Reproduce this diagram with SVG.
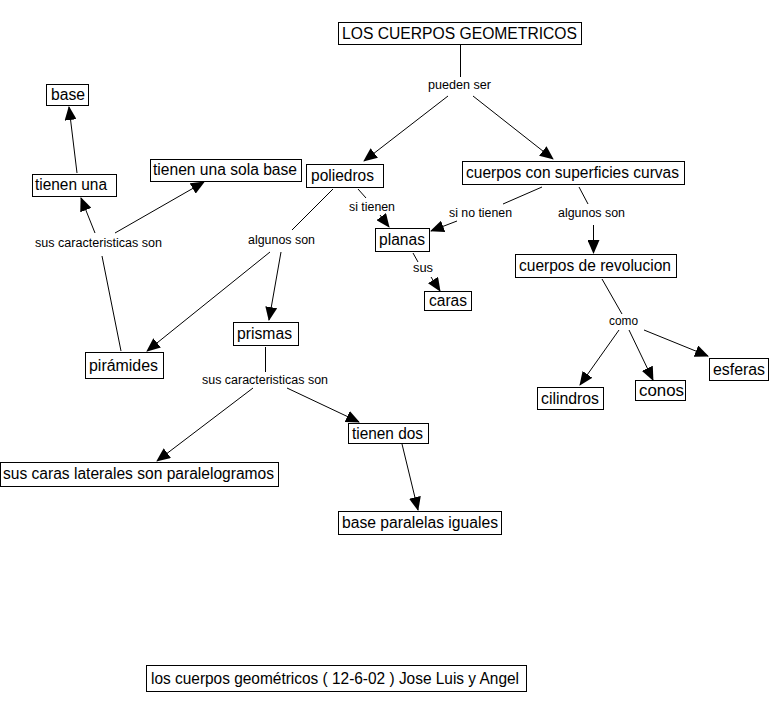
<svg xmlns="http://www.w3.org/2000/svg" width="784" height="711" viewBox="0 0 784 711">
<style>
.n rect{fill:#fff;stroke:#000;stroke-width:1}
.n text{font-family:"Liberation Sans",Arial,sans-serif;font-size:16px;fill:#000}
.l{font-family:"Liberation Sans",Arial,sans-serif;font-size:12px;fill:#000}
.c line{stroke:#000;stroke-width:1;fill:none}
.c line.a{marker-end:url(#ah)}
</style>
<defs>
<marker id="ah" markerUnits="userSpaceOnUse" markerWidth="14" markerHeight="12" viewBox="0 0 14 12" refX="13" refY="6" orient="auto">
<path d="M0,0 L14,6 L0,12 Z" fill="#000"/>
</marker>
</defs>
<rect width="784" height="711" fill="#fff"/>
<g id="connectors" class="c">
<line x1="460.5" y1="45" x2="460.5" y2="77"/>
<line class="a" x1="448" y1="96" x2="364" y2="161"/>
<line class="a" x1="473" y1="96" x2="553" y2="159"/>
<line x1="358" y1="189" x2="366" y2="198"/>
<line class="a" x1="380" y1="215" x2="389" y2="227"/>
<line x1="542" y1="187" x2="503" y2="204"/>
<line class="a" x1="457" y1="221" x2="431" y2="231"/>
<line x1="579" y1="187" x2="588" y2="204"/>
<line class="a" x1="593.5" y1="225" x2="593.5" y2="253"/>
<line x1="413" y1="253" x2="418" y2="262"/>
<line class="a" x1="431" y1="277" x2="440" y2="291"/>
<line x1="602" y1="279" x2="622" y2="314"/>
<line class="a" x1="619" y1="330" x2="580" y2="385"/>
<line class="a" x1="629" y1="330" x2="653" y2="380"/>
<line class="a" x1="644" y1="330" x2="708" y2="356"/>
<line x1="333" y1="189" x2="292" y2="230"/>
<line class="a" x1="270" y1="252" x2="147" y2="351"/>
<line class="a" x1="281" y1="252" x2="269" y2="320"/>
<line x1="121" y1="351" x2="102" y2="256"/>
<line class="a" x1="95" y1="233" x2="81" y2="198"/>
<line class="a" x1="115" y1="233" x2="204" y2="182"/>
<line class="a" x1="77" y1="173" x2="69" y2="107"/>
<line x1="265.5" y1="347" x2="265.5" y2="372"/>
<line class="a" x1="253" y1="388" x2="157" y2="461"/>
<line class="a" x1="287" y1="388" x2="359" y2="422"/>
<line class="a" x1="402" y1="444" x2="418" y2="510"/>
</g>
<g id="labels">
<text class="l" x="428" y="89" textLength="63" lengthAdjust="spacingAndGlyphs">pueden ser</text>
<text class="l" x="35" y="247" textLength="127" lengthAdjust="spacingAndGlyphs">sus caracteristicas son</text>
<text class="l" x="248" y="244" textLength="67" lengthAdjust="spacingAndGlyphs">algunos son</text>
<text class="l" x="349" y="211" textLength="46" lengthAdjust="spacingAndGlyphs">si tienen</text>
<text class="l" x="449" y="217" textLength="63" lengthAdjust="spacingAndGlyphs">si no tienen</text>
<text class="l" x="558" y="217" textLength="67" lengthAdjust="spacingAndGlyphs">algunos son</text>
<text class="l" x="413" y="272" textLength="20" lengthAdjust="spacingAndGlyphs">sus</text>
<text class="l" x="609" y="325" textLength="29" lengthAdjust="spacingAndGlyphs">como</text>
<text class="l" x="202" y="384" textLength="126" lengthAdjust="spacingAndGlyphs">sus caracteristicas son</text>
</g>
<g id="n-titulo" class="n"><rect x="338.5" y="22.5" width="243" height="22"/><text x="342" y="39" textLength="235" lengthAdjust="spacingAndGlyphs">LOS CUERPOS GEOMETRICOS</text></g>
<g id="n-base" class="n"><rect x="46.5" y="84.5" width="42" height="21"/><text x="51" y="100" textLength="34" lengthAdjust="spacingAndGlyphs">base</text></g>
<g id="n-tienen-una" class="n"><rect x="32.5" y="174.5" width="84" height="22"/><text x="35" y="190" textLength="72" lengthAdjust="spacingAndGlyphs">tienen una</text></g>
<g id="n-sola-base" class="n"><rect x="150.5" y="159.5" width="151" height="22"/><text x="153" y="175" textLength="144" lengthAdjust="spacingAndGlyphs">tienen una sola base</text></g>
<g id="n-poliedros" class="n"><rect x="306.5" y="164.5" width="77" height="23"/><text x="311" y="181" textLength="63" lengthAdjust="spacingAndGlyphs">poliedros</text></g>
<g id="n-curvas" class="n"><rect x="462.5" y="161.5" width="222" height="23"/><text x="466" y="178" textLength="213" lengthAdjust="spacingAndGlyphs">cuerpos con superficies curvas</text></g>
<g id="n-planas" class="n"><rect x="375.5" y="228.5" width="54" height="23"/><text x="379" y="245" textLength="46" lengthAdjust="spacingAndGlyphs">planas</text></g>
<g id="n-caras" class="n"><rect x="424.5" y="291.5" width="47" height="19"/><text x="429" y="306" textLength="38" lengthAdjust="spacingAndGlyphs">caras</text></g>
<g id="n-revolucion" class="n"><rect x="515.5" y="254.5" width="161" height="23"/><text x="519" y="271" textLength="152" lengthAdjust="spacingAndGlyphs">cuerpos de revolucion</text></g>
<g id="n-piramides" class="n"><rect x="85.5" y="352.5" width="78" height="26"/><text x="89" y="371" textLength="69" lengthAdjust="spacingAndGlyphs">pirámides</text></g>
<g id="n-prismas" class="n"><rect x="233.5" y="322.5" width="65" height="23"/><text x="237" y="339" textLength="55" lengthAdjust="spacingAndGlyphs">prismas</text></g>
<g id="n-tienen-dos" class="n"><rect x="348.5" y="423.5" width="80" height="20"/><text x="352" y="439" textLength="71" lengthAdjust="spacingAndGlyphs">tienen dos</text></g>
<g id="n-laterales" class="n"><rect x="0.5" y="462.5" width="278" height="24"/><text x="3" y="479" textLength="271" lengthAdjust="spacingAndGlyphs">sus caras laterales son paralelogramos</text></g>
<g id="n-base-paralelas" class="n"><rect x="338.5" y="511.5" width="163" height="23"/><text x="342" y="528" textLength="156" lengthAdjust="spacingAndGlyphs">base paralelas iguales</text></g>
<g id="n-cilindros" class="n"><rect x="537.5" y="387.5" width="66" height="22"/><text x="541" y="404" textLength="58" lengthAdjust="spacingAndGlyphs">cilindros</text></g>
<g id="n-conos" class="n"><rect x="635.5" y="380.5" width="50" height="20"/><text x="639" y="396" textLength="45" lengthAdjust="spacingAndGlyphs">conos</text></g>
<g id="n-esferas" class="n"><rect x="709.5" y="358.5" width="59" height="22"/><text x="713" y="375" textLength="52" lengthAdjust="spacingAndGlyphs">esferas</text></g>
<g id="n-autores" class="n"><rect x="146.5" y="665.5" width="380" height="26"/><text x="151" y="684" textLength="368" lengthAdjust="spacingAndGlyphs">los cuerpos geométricos ( 12-6-02 ) Jose Luis y Angel</text></g>
</svg>
